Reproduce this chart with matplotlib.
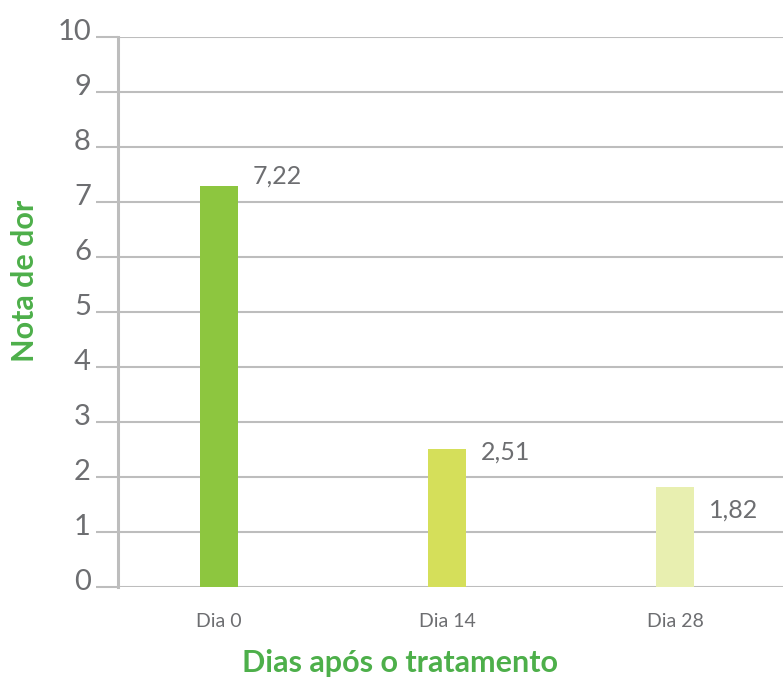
import matplotlib
matplotlib.use("Agg")
import matplotlib.pyplot as plt
import matplotlib.transforms as mtrans

# dados
dias = ['Dia 0', 'Dia 14', 'Dia 28']
notas = [7.29, 2.51, 1.82]
rotulos = ['7,22', '2,51', '1,82']
cores = ['#8DC63F', '#D5DF5A', '#E8EFB0']

cinza = '#6D6E71'
linha = '#BDBDBD'
verde = '#4DAF4A'

plt.rcParams['font.family'] = ['Lato', 'DejaVu Sans']

fig = plt.figure(figsize=(7.83, 6.77), dpi=100)
ax = fig.add_axes([118/783, 90/677, 665/783, 550/677])

x = range(len(dias))
ax.bar(x, notas, width=38/228, color=cores, zorder=3)

# rótulos de valor ao lado das barras
desloc = [0.18, -0.05, -0.42]
for i, (v, r) in enumerate(zip(notas, rotulos)):
    ax.text(i + 0.5*38/228 + 15/228, v + desloc[i], r, fontsize=18,
            color=cinza, va='center', ha='left')

ax.set_xlim(-101/228, 564/228)
ax.set_ylim(0, 10)
ax.set_yticks(range(0, 11))
ax.set_xticks(list(x))
ax.set_xticklabels(dias)

ax.grid(axis='y', color=linha, linewidth=1.5, zorder=0)
ax.tick_params(axis='y', length=15.5, width=1.5, color=linha, pad=4,
               labelsize=21, labelcolor=cinza)
ax.tick_params(axis='x', length=0, pad=19, labelsize=14, labelcolor=cinza)
off = mtrans.ScaledTranslation(0, -3/100, fig.dpi_scale_trans)
for lab in ax.get_yticklabels():
    lab.set_verticalalignment('baseline')
    lab.set_transform(lab.get_transform() + off)

for s in ['top', 'right', 'bottom']:
    ax.spines[s].set_visible(False)
ax.spines['left'].set_color(linha)
ax.spines['left'].set_linewidth(2.2)

fig.text(400/783, 1 - 663/677, 'Dias após o tratamento', fontsize=22,
         fontweight='bold', color=verde, ha='center', va='center')
fig.text(25/783, 1 - 281/677, 'Nota de dor', fontsize=22, rotation=90,
         fontweight='bold', color=verde, ha='center', va='center')

plt.savefig('out.png', dpi=100)
